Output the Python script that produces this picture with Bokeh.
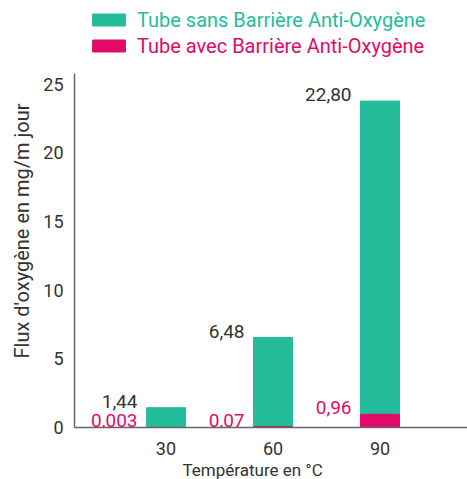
from bokeh.plotting import figure
from bokeh.models import (ColumnDataSource, Range1d, FixedTicker, Legend, LegendItem, LabelSet, Title)
from bokeh.core.properties import value
from bokeh.embed import file_html
from bokeh.resources import INLINE

temperatures = [30, 60, 90]
sans_barriere = [1.44, 6.48, 22.80]
avec_barriere = [0.003, 0.07, 0.96]
sans_labels = ["1,44", "6,48", "22,80"]
avec_labels = ["0,003", "0,07", "0,96"]
y_ticks = [0, 5, 10, 15, 20, 25]

GREEN = "#25BC9C"
PINK = "#E20A69"
TEXT = "#333333"
FONT = "Roboto"

top_total = [a + s for a, s in zip(avec_barriere, sans_barriere)]
src = ColumnDataSource(dict(x=temperatures, sans=sans_barriere, avec=avec_barriere,
                            total=top_total, sans_lab=sans_labels, avec_lab=avec_labels))

p = figure(width=467, height=479, output_backend="svg", toolbar_location=None,
           x_range=Range1d(4.35, 114.53), y_range=Range1d(0, 31.08),
           min_border_left=74, min_border_top=0, min_border_bottom=52, min_border_right=0)
p.outline_line_color = None
p.grid.visible = False
p.background_fill_color = "white"

bw = 10.93
g = p.vbar(x="x", bottom="avec", top="total", width=bw, color=GREEN, source=src)
r = p.vbar(x="x", bottom=0, top="avec", width=bw, color=PINK, source=src)

p.add_layout(LabelSet(x="x", y="total", text="sans_lab", source=src, x_offset=-28.5, y_offset=0,
                      text_align="right", text_baseline="alphabetic", text_color=TEXT,
                      text_font=value(FONT), text_font_size="19px"))
p.add_layout(LabelSet(x="x", y="avec", text="avec_lab", source=src, x_offset=-28.5, y_offset=0,
                      text_align="right", text_baseline="alphabetic", text_color=PINK,
                      text_font=value(FONT), text_font_size="19px"))

for ax in (p.xaxis[0], p.yaxis[0]):
    ax.axis_line_color = "#666666"
    ax.axis_line_width = 1.5
    ax.major_tick_line_color = None
    ax.minor_tick_line_color = None
    ax.major_label_text_color = TEXT
    ax.major_label_text_font = FONT
    ax.major_label_text_font_size = "18px"

p.xaxis.ticker = FixedTicker(ticks=temperatures)
p.xaxis.major_label_standoff = 8
p.yaxis.ticker = FixedTicker(ticks=y_ticks)
p.yaxis.major_label_standoff = 5
p.yaxis.bounds = (0, 25.76)

xt = Title(text="Température en °C", align="left", offset=108, standoff=0,
           text_color=TEXT, text_font=FONT, text_font_size="17px", text_font_style="normal")
p.add_layout(xt, "below")
yt = Title(text="Flux d'oxygène en mg/m jour", align="left", offset=69, standoff=14,
           text_color=TEXT, text_font=FONT, text_font_size="20px", text_font_style="normal")
p.add_layout(yt, "left")

leg1 = Legend(items=[LegendItem(label="Tube sans Barrière Anti-Oxygène", renderers=[g])],
              location=(14, 394.5), label_text_color=GREEN)
leg2 = Legend(items=[LegendItem(label="Tube avec Barrière Anti-Oxygène", renderers=[r])],
              location=(14, 368.5), label_text_color=PINK)
for lg in (leg1, leg2):
    lg.glyph_width = 41
    lg.glyph_height = 15
    lg.label_height = 26
    lg.label_standoff = 8
    lg.padding = 0
    lg.margin = 0
    lg.spacing = 0
    lg.border_line_color = None
    lg.background_fill_alpha = 0
    lg.label_text_font = FONT
    lg.label_text_font_size = "20px"
    p.add_layout(lg, "center")

open("out.html", "w").write(file_html(p, INLINE))
